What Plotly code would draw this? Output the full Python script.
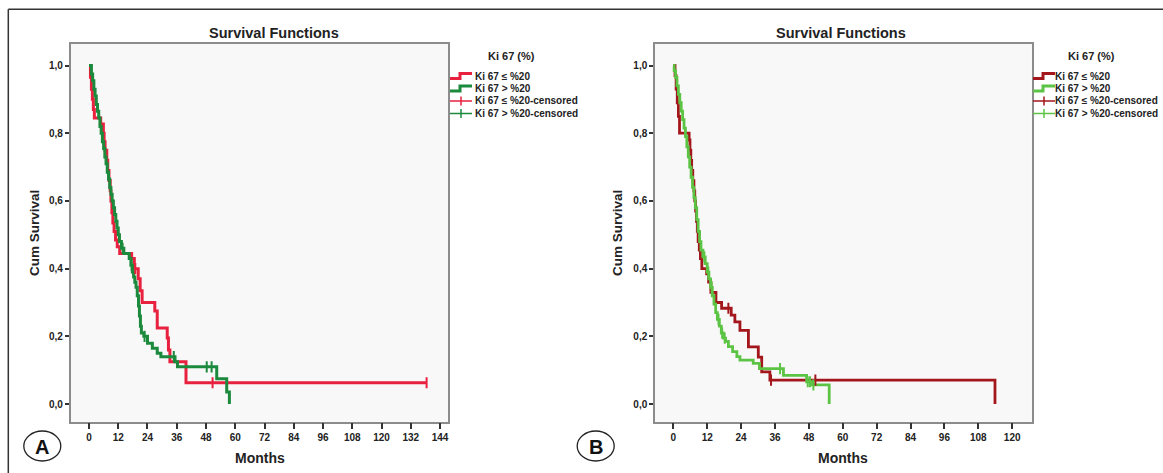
import numpy as np
import plotly.graph_objects as go

# ---------------- data ----------------
# Panel A
A_red_t = [0, 0.6, 1.0, 1.4, 1.8, 2.2, 4.8, 5.9, 6.2, 6.6, 7.3, 7.7, 8.2, 8.7, 9.0, 9.4, 9.8,
           10.3, 10.9, 11.6, 12.6, 17.5, 18.6, 20.2, 21.0, 21.8, 27.0, 28.0, 32.1, 32.6, 33.2,
           39.8, 138.5]
A_red_s = [1.0, 0.965, 0.93, 0.90, 0.87, 0.845, 0.827, 0.80, 0.775, 0.75, 0.72, 0.69, 0.66,
           0.63, 0.60, 0.565, 0.535, 0.51, 0.485, 0.465, 0.445, 0.43, 0.40, 0.37, 0.335, 0.30,
           0.275, 0.225, 0.195, 0.16, 0.125, 0.063, 0.063]
A_red_cens = [19.0, 50.7, 138.5]

A_green_t = [0, 1.0, 1.5, 2.0, 2.5, 3.0, 3.5, 4.0, 4.5, 5.0, 5.5, 6.0, 6.5, 7.0, 7.5, 8.0, 8.5,
             9.0, 9.5, 10.0, 10.5, 11.0, 11.5, 12.0, 12.5, 13.3, 14.3, 16.5, 17.2, 17.8, 18.3,
             18.8, 19.3, 19.8, 20.3, 20.7, 21.1, 21.5, 22.5, 24.0, 26.0, 28.0, 29.5, 35.3, 36.3,
             52.4, 56.5, 57.6]
A_green_s = [1.0, 0.975, 0.955, 0.93, 0.91, 0.885, 0.865, 0.845, 0.82, 0.80, 0.775, 0.755, 0.73,
             0.71, 0.685, 0.665, 0.64, 0.62, 0.60, 0.58, 0.56, 0.54, 0.52, 0.50, 0.48, 0.46,
             0.445, 0.43, 0.41, 0.39, 0.375, 0.36, 0.345, 0.32, 0.29, 0.26, 0.23, 0.21, 0.20,
             0.18, 0.165, 0.15, 0.14, 0.125, 0.11, 0.075, 0.036, 0.0]
A_green_cens = [13.8, 17.5, 22.8, 34.8, 48.3, 50.3]

# Panel B
B_red_t = [0, 0.6, 1.0, 1.4, 1.8, 2.2, 5.6, 5.9, 6.2, 6.5, 6.9, 7.3, 7.6, 7.9, 8.2, 8.5, 8.8,
           9.2, 9.6, 10.1, 11.8, 12.5, 13.3, 15.1, 17.1, 20.5, 21.8, 23.6, 26.6, 30.1, 31.3,
           34.2, 113.9]
B_red_s = [1.0, 0.97, 0.93, 0.89, 0.85, 0.80, 0.78, 0.75, 0.72, 0.69, 0.66, 0.63, 0.60, 0.57,
           0.54, 0.51, 0.48, 0.455, 0.43, 0.40, 0.385, 0.36, 0.33, 0.30, 0.283, 0.263, 0.243,
           0.218, 0.169, 0.139, 0.095, 0.071, 0.0]
B_red_cens = [19.5, 34.6, 50.3]

B_green_t = [0, 0.3, 0.8, 1.3, 1.8, 2.3, 2.8, 3.3, 3.8, 4.3, 4.8, 5.3, 5.8, 6.3, 6.8, 7.3, 7.8,
             8.3, 8.8, 9.3, 9.8, 10.5, 11.3, 12.0, 12.6, 13.2, 13.8, 14.4, 15.0, 15.6, 16.3,
             17.0, 17.7, 18.5, 19.5, 21.0, 22.5, 23.6, 28.3, 30.5, 39.0, 47.2, 49.0, 55.2]
B_green_s = [1.0, 0.985, 0.965, 0.94, 0.915, 0.89, 0.865, 0.84, 0.815, 0.79, 0.76, 0.73, 0.70,
             0.67, 0.64, 0.61, 0.58, 0.545, 0.51, 0.48, 0.455, 0.435, 0.415, 0.39, 0.37, 0.345,
             0.32, 0.295, 0.27, 0.25, 0.23, 0.21, 0.195, 0.185, 0.17, 0.155, 0.14, 0.13, 0.12,
             0.105, 0.085, 0.066, 0.057, 0.0]
B_green_cens = [11.0, 12.4, 13.6, 16.0, 17.3, 18.2, 37.8, 47.6, 48.4, 49.6]

A_xticks = list(range(0, 145, 12))
B_xticks = list(range(0, 121, 12))
y_ticks = [0.0, 0.2, 0.4, 0.6, 0.8, 1.0]
y_ticklabels = ["0,0", "0,2", "0,4", "0,6", "0,8", "1,0"]

legend_title = "Ki 67 (%)"
legend_labels = ["Ki 67 \u2264 %20", "Ki 67 > %20",
                 "Ki 67 \u2264 %20-censored", "Ki 67 > %20-censored"]

for a, b in [(A_red_t, A_red_s), (A_green_t, A_green_s), (B_red_t, B_red_s), (B_green_t, B_green_s)]:
    assert len(a) == len(b)

# ---------------- styling ----------------
W, H = 1163, 473
FONT = "Liberation Sans, Arial, sans-serif"
A_RED, A_GREEN = "#e8213f", "#1b8a3c"
B_RED, B_GREEN = "#a3161c", "#5cc444"


def px(x):
    return x / W


def py(y):
    return 1 - y / H


def surv_at(times, surv, pts):
    idx = np.searchsorted(np.array(times), np.array(pts), side="right") - 1
    return [surv[i] for i in idx]


fig = go.Figure()


def add_panel(xa, ya, t_r, s_r, c_r, t_g, s_g, c_g, col_r, col_g, lw):
    fig.add_trace(go.Scatter(x=t_r, y=s_r, mode="lines", line=dict(shape="hv", color=col_r, width=lw),
                             xaxis=xa, yaxis=ya, showlegend=False, hoverinfo="skip"))
    fig.add_trace(go.Scatter(x=t_g, y=s_g, mode="lines", line=dict(shape="hv", color=col_g, width=lw),
                             xaxis=xa, yaxis=ya, showlegend=False, hoverinfo="skip"))
    fig.add_trace(go.Scatter(x=c_r, y=surv_at(t_r, s_r, c_r), mode="markers",
                             marker=dict(symbol="line-ns-open", size=8, color=col_r,
                                         line=dict(width=2, color=col_r)),
                             xaxis=xa, yaxis=ya, showlegend=False, hoverinfo="skip"))
    fig.add_trace(go.Scatter(x=c_g, y=surv_at(t_g, s_g, c_g), mode="markers",
                             marker=dict(symbol="line-ns-open", size=8, color=col_g,
                                         line=dict(width=2, color=col_g)),
                             xaxis=xa, yaxis=ya, showlegend=False, hoverinfo="skip"))


add_panel("x", "y", A_red_t, A_red_s, A_red_cens, A_green_t, A_green_s, A_green_cens, A_RED, A_GREEN, 3)
add_panel("x2", "y2", B_red_t, B_red_s, B_red_cens, B_green_t, B_green_s, B_green_cens, B_RED, B_GREEN, 2.8)

ydom = [py(421.7), py(44)]
axis_common = dict(showgrid=False, zeroline=False, showline=True, mirror=True,
                   linecolor="#8c8c8c", linewidth=1.5, ticks="outside", tickcolor="#333",
                   tickwidth=1.5, tickfont=dict(family=FONT, size=10, color="#222"))
y_range = [-0.052, 1.0635]

fig.update_layout(
    width=W, height=H, margin=dict(l=0, r=0, t=0, b=0),
    paper_bgcolor="white", plot_bgcolor="#f8f8f8",
    xaxis=dict(domain=[px(70.7), px(448.3)], range=[-7.5, 147.4], tickvals=A_xticks,
               ticktext=[f"<b>{v}</b>" for v in A_xticks], ticklen=6, anchor="y", **axis_common),
    yaxis=dict(domain=ydom, range=y_range, tickvals=y_ticks,
               ticktext=[f"<b>{v}</b>" for v in y_ticklabels], ticklen=4, anchor="x", **axis_common),
    xaxis2=dict(domain=[px(655), px(1031.7)], range=[-6.48, 126.9], tickvals=B_xticks,
                ticktext=[f"<b>{v}</b>" for v in B_xticks], ticklen=6, anchor="y2", **axis_common),
    yaxis2=dict(domain=ydom, range=y_range, tickvals=y_ticks,
                ticktext=[f"<b>{v}</b>" for v in y_ticklabels], ticklen=4, anchor="x2", **axis_common),
)

ann = []
shapes = []


def text(x, y, s, size, angle=0, xanchor="center", color="#222"):
    ann.append(dict(x=px(x), y=py(y), xref="paper", yref="paper", text=s, showarrow=False,
                    xanchor=xanchor, yanchor="middle", textangle=angle,
                    font=dict(family=FONT, size=size, color=color)))


# titles / axis titles
for tx, mx, yx in [(273.5, 260, 34), (841, 843, 617)]:
    text(tx, 33, "<b>Survival Functions</b>", 14.5)
    text(mx, 457.5, "<b>Months</b>", 14)
    text(yx, 233, "<b>Cum Survival</b>", 13.5, angle=-90)

# legends
for gx, tcx, tx, col_r, col_g in [(450, 511.7, 472.5, A_RED, A_GREEN),
                                   (1033, 1091.7, 1052.8, B_RED, B_GREEN)]:
    text(tcx, 56, f"<b>{legend_title}</b>", 11)
    rows = [76, 88.5, 101, 113.5]
    cols = [col_r, col_g, col_r, col_g]
    for i, (ry, lab, c) in enumerate(zip(rows, legend_labels, cols)):
        text(tx, ry, f"<b>{lab}</b>", 10, xanchor="left")
        if i < 2:
            path = (f"M {px(gx)},{py(ry + 2.5)} H {px(gx + 10)} V {py(ry - 2.5)} H {px(gx + 22)}")
            shapes.append(dict(type="path", path=path, xref="paper", yref="paper",
                               line=dict(color=c, width=3)))
        else:
            shapes.append(dict(type="line", xref="paper", yref="paper", x0=px(gx), x1=px(gx + 22),
                               y0=py(ry), y1=py(ry), line=dict(color=c, width=1.5)))
            shapes.append(dict(type="line", xref="paper", yref="paper", x0=px(gx + 11), x1=px(gx + 11),
                               y0=py(ry - 4.5), y1=py(ry + 4.5), line=dict(color=c, width=1.5)))

# panel letters
for cx, letter in [(42.3, "A"), (595.7, "B")]:
    shapes.append(dict(type="circle", xref="paper", yref="paper", x0=px(cx - 18.5), x1=px(cx + 18.5),
                       y0=py(446 + 15), y1=py(446 - 15), line=dict(color="#222", width=1.3)))
    text(cx, 447, f"<b>{letter}</b>", 20, color="#111")

# outer frame (top and left edges)
shapes.append(dict(type="line", xref="paper", yref="paper", x0=px(8.3), x1=1, y0=py(9.3), y1=py(9.3),
                   line=dict(color="#333", width=1.5)))
shapes.append(dict(type="line", xref="paper", yref="paper", x0=px(8.3), x1=px(8.3), y0=0, y1=py(9.3),
                   line=dict(color="#333", width=1.5)))

fig.update_layout(annotations=ann, shapes=shapes)

fig.write_html("out.html", config={"displayModeBar": False},
               post_script="document.body.style.margin='0';document.body.style.overflow='hidden';")
